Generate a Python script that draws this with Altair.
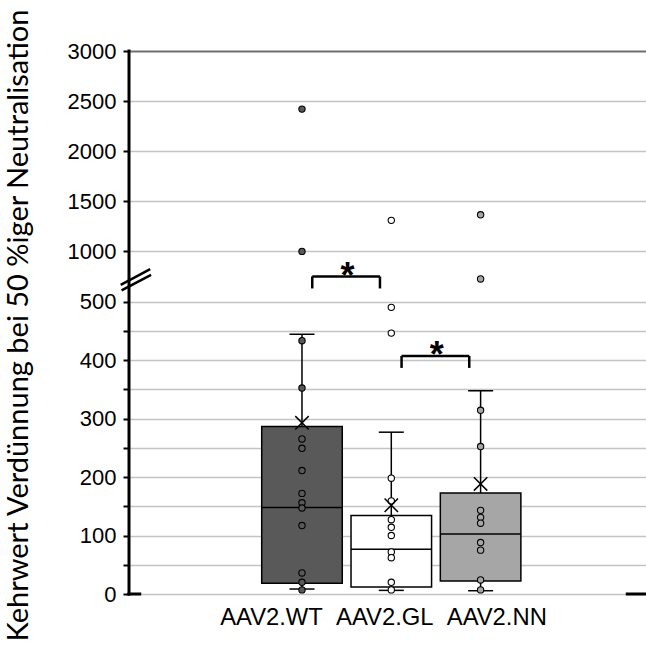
import altair as alt
import pandas as pd

categories = ["AAV2.WT", "AAV2.GL", "AAV2.NN"]
fills = ["#595959", "#ffffff", "#a6a6a6"]

wt_points = [2420, 1000, 433, 352, 265, 249, 211, 172, 156, 147, 117, 36, 20, 7]
gl_points = [1310, 490, 446, 198, 159, 127, 114, 100, 72, 62, 20, 7]
nn_points = [1365, 725, 314, 252, 143, 131, 121, 88, 75, 24, 7]

whisker_low = [8.5, 6.2, 5.6]
q1 = [18.2, 12.0, 22.2]
median = [147.7, 76.4, 102.7]
q3 = [286.3, 134.0, 172.8]
whisker_high = [444.0, 276.6, 347.4]
means = [292.6, 151.7, 188.2]

sig_left = ["AAV2.WT", "AAV2.GL"]
sig_right = ["AAV2.GL", "AAV2.NN"]
sig_height = [750, 407]
sig_label = ["*", "*"]

y_title = "Kehrwert Verdünnung bei 50 %iger Neutralisation"
y_ticks = list(range(0, 501, 50)) + [1000, 1500, 2000, 2500, 3000]
y_min, y_break, y_max = 0, 500, 3000
x_min, x_max = -1.937, 3.852

# axis-break slashes (data coords)
break_x1 = [-2.03, -2.02]
break_x2 = [-1.70, -1.69]
break_y1 = [666, 610]
break_y2 = [823, 766]

# ---------------------------------------------------------------------------
idx_of = {c: i for i, c in enumerate(categories)}

pts_rows = []
for g, vals in zip(categories, [wt_points, gl_points, nn_points]):
    for v in vals:
        pts_rows.append({"group": g, "idx": idx_of[g], "value": v})
pts_df = pd.DataFrame(pts_rows)

box_df = pd.DataFrame({
    "group": categories,
    "idx": list(range(len(categories))),
    "lo": whisker_low, "q1": q1, "med": median, "q3": q3,
    "hi": whisker_high, "mean": means,
})

sig_df = pd.DataFrame({
    "l": [idx_of[c] for c in sig_left],
    "r": [idx_of[c] for c in sig_right],
    "h": sig_height,
    "lab": sig_label,
})

brk_df = pd.DataFrame({"x1": break_x1, "x2": break_x2, "y1": break_y1, "y2": break_y2})

frame_df = pd.DataFrame({
    "xa": [x_min, x_min, x_max - 0.21],
    "xb": [x_min, x_min + 0.12, x_max],
    "ya": [y_min, y_min, y_min],
    "yb": [y_max, y_min, y_min],
})

xs = alt.Scale(domain=[x_min, x_max], nice=False, zero=False)
ys = alt.Scale(domain=[y_min, y_break, y_max], range=[543, 250.5, 0], nice=False, zero=False)
color = alt.Color("group:N", scale=alt.Scale(domain=categories, range=fills), legend=None)

yaxis = alt.Axis(
    values=y_ticks,
    format="d",
    labelExpr="(datum.value < 500 && datum.value % 100 != 0) ? '' : datum.label",
    title=y_title,
    titleAngle=270,
    titleAlign="center",
    titleBaseline="top",
    titleX=-125,
    titleY=274,
    domain=False,
    tickColor="#000000",
    tickWidth=2,
    tickSize=6,
    gridColor={"condition": {"test": "datum.value === 3000", "value": "#6e6e6e"}, "value": "#c4c4c4"},
    gridWidth={"condition": {"test": "datum.value === 3000", "value": 2}, "value": 1.5},
)

X = lambda f: alt.X(f, scale=xs, axis=None)
Y = lambda f: alt.Y(f, scale=ys, axis=yaxis)

whisker = alt.Chart(box_df).mark_rule(color="#000000", strokeWidth=1.5).encode(
    x=X("idx:Q"), y=Y("lo:Q"), y2="hi:Q"
)

box = alt.Chart(box_df).transform_calculate(
    xa="datum.idx - 0.451", xb="datum.idx + 0.451"
).mark_bar(stroke="#000000", strokeWidth=1.5).encode(
    x=X("xa:Q"), x2="xb:Q", y=Y("q1:Q"), y2="q3:Q", fill=color
)

med = alt.Chart(box_df).transform_calculate(
    xa="datum.idx - 0.451", xb="datum.idx + 0.451"
).mark_rule(color="#000000", strokeWidth=1.5).encode(
    x=X("xa:Q"), x2="xb:Q", y=Y("med:Q")
)

cap_lo = alt.Chart(box_df).transform_calculate(
    xa="datum.idx - 0.14", xb="datum.idx + 0.14"
).mark_rule(color="#000000", strokeWidth=1.5).encode(
    x=X("xa:Q"), x2="xb:Q", y=Y("lo:Q")
)
cap_hi = alt.Chart(box_df).transform_calculate(
    xa="datum.idx - 0.14", xb="datum.idx + 0.14"
).mark_rule(color="#000000", strokeWidth=1.5).encode(
    x=X("xa:Q"), x2="xb:Q", y=Y("hi:Q")
)

points = alt.Chart(pts_df).mark_point(
    shape="circle", filled=True, size=40, stroke="#000000", strokeWidth=1.1, opacity=1
).encode(x=X("idx:Q"), y=Y("value:Q"), fill=color)

mean_x = alt.Chart(box_df).mark_point(
    shape="M-1,-1L1,1M-1,1L1,-1", size=180, stroke="#000000", strokeWidth=1.5, filled=False, opacity=1
).encode(x=X("idx:Q"), y=Y("mean:Q"))

sig_base = alt.Chart(sig_df).transform_calculate(
    xa="datum.l + 0.115", xb="datum.r - 0.127", xm="(datum.l + datum.r) / 2 + 0.01"
)
sig_bar = sig_base.mark_rule(color="#000000", strokeWidth=2.5).encode(
    x=X("xa:Q"), x2="xb:Q", y=Y("h:Q")
)
sig_leg_l = sig_base.mark_tick(orient="vertical", size=12, thickness=2.5, color="#000000", yOffset=6, opacity=1).encode(
    x=X("xa:Q"), y=Y("h:Q")
)
sig_leg_r = sig_base.mark_tick(orient="vertical", size=12, thickness=2.5, color="#000000", yOffset=6, opacity=1).encode(
    x=X("xb:Q"), y=Y("h:Q")
)
sig_star = sig_base.mark_text(
    font="Liberation Sans", fontSize=36, fontWeight="bold", color="#000000", baseline="alphabetic", dy=11.5
).encode(x=X("xm:Q"), y=Y("h:Q"), text="lab:N")

# y-axis line and the short black stubs on the zero line, all in data coords
frame = alt.Chart(frame_df).mark_rule(color="#000000", strokeWidth=3, strokeCap="square").encode(
    x=X("xa:Q"), x2="xb:Q", y=Y("ya:Q"), y2="yb:Q"
)

brk = alt.Chart(brk_df).mark_rule(color="#000000", strokeWidth=2.5).encode(
    x=X("x1:Q"), x2="x2:Q", y=Y("y1:Q"), y2="y2:Q"
)

xlab = alt.Chart(pd.DataFrame({"t": ["\u00a0\u00a0".join(categories)]})).mark_text(
    font="Liberation Sans", fontSize=23.8, color="#000000", baseline="middle", align="center"
).encode(x=alt.value(254.5), y=alt.value(567), text="t:N")

chart = alt.layer(
    whisker, box, med, cap_lo, cap_hi, points, mean_x,
    sig_bar, sig_leg_l, sig_leg_r, sig_star, frame, brk, xlab
).properties(
    width=517, height=543,
    autosize=alt.AutoSizeParams(type="none"),
    padding={"left": 129, "top": 51, "right": 0, "bottom": 57},
    background="#ffffff",
).configure_view(strokeWidth=0, stroke="transparent").configure_axis(
    tickColor="#000000",
    tickWidth=2,
    tickSize=6,
    grid=True,
    labelFont="Liberation Sans",
    labelFontSize=22,
    labelColor="#000000",
    labelPadding=7,
    titleFont="Lato",
    titleFontSize=29,
    titleFontWeight="normal",
    titleColor="#000000",
)

chart.save("out.html", embed_options={"renderer": "svg", "actions": False})
